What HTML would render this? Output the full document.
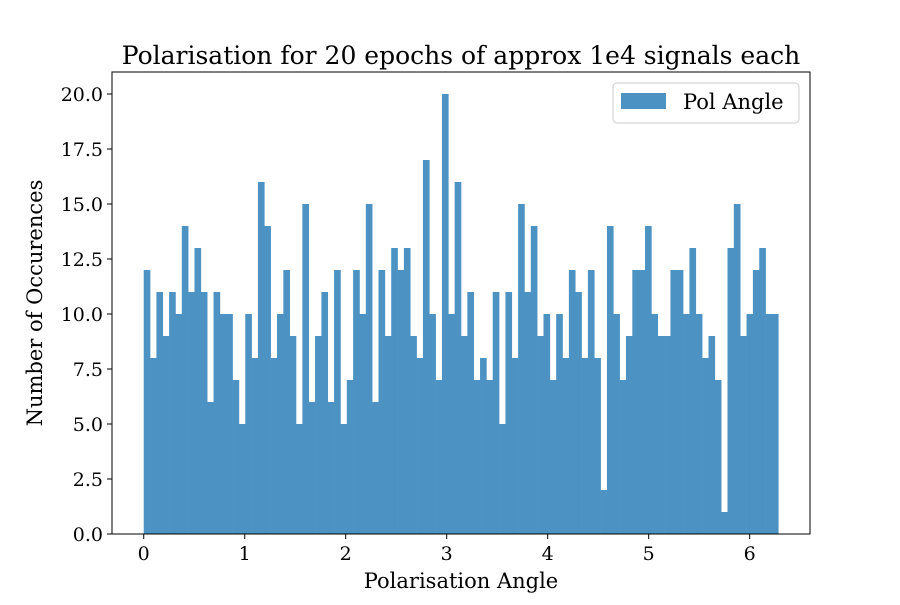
<!DOCTYPE html>
<html><head><meta charset="utf-8"><style>
body{margin:0;background:#fff}
svg text{font-family:"DejaVu Serif","Liberation Serif",serif;fill:#000}
</style></head><body>
<svg id="chart" width="900" height="600" xmlns="http://www.w3.org/2000/svg">
<rect width="900" height="600" fill="#fff"/>
<text x="461" y="64" font-size="25" text-anchor="middle">Polarisation for 20 epochs of approx 1e4 signals each</text>
<g id="bars"></g>
<g id="axes"></g>
<text x="461" y="588" font-size="21" text-anchor="middle">Polarisation Angle</text>
<text transform="translate(42,303) rotate(-90)" font-size="21" text-anchor="middle">Number of Occurences</text>
<g>
<rect x="613" y="83" width="186" height="40" rx="4" fill="#fff" stroke="#ccc"/>
<rect x="621" y="93" width="45" height="16" fill="#4c92c3"/>
<text x="683" y="109" font-size="21">Pol Angle</text>
</g>
</svg>
<script>
const counts=[12,8,11,9,11,10,14,11,13,11,6,11,10,10,7,5,10,8,16,14,8,10,12,9,5,15,6,9,11,6,12,5,7,12,10,15,6,12,9,13,12,13,9,8,17,10,7,20,10,16,9,11,7,8,7,11,5,11,8,15,11,14,9,10,7,10,8,12,11,8,12,8,2,14,10,7,9,12,12,14,10,9,9,12,12,10,13,10,8,9,7,1,13,15,9,10,12,13,10,10];
const xTicks=[0,1,2,3,4,5,6];
const yTicks=[0,2.5,5,7.5,10,12.5,15,17.5,20];
const xMin=0,xMax=2*Math.PI;
const NS="http://www.w3.org/2000/svg";
const L=112,R=810,T=72,B=534;
const span=xMax-xMin,xl=xMin-span*0.05,xr=xMax+span*0.05;
const sx=v=>L+(v-xl)/(xr-xl)*(R-L);
const ymax=Math.max(...counts)*1.05;
const sy=v=>B-v/ymax*(B-T);
function mk(tag,attrs,parent){const e=document.createElementNS(NS,tag);for(const k in attrs)e.setAttribute(k,attrs[k]);parent.appendChild(e);return e;}
const bars=document.getElementById('bars');
const w=span/counts.length;
counts.forEach((c,i)=>{
 const x0=sx(xMin+i*w),x1=sx(xMin+(i+1)*w);
 const r=mk('rect',{x:x0,y:sy(c),width:x1-x0+0.3,height:B-sy(c),fill:'#4c92c3'},bars);
 
 
});
const ax=document.getElementById('axes');
mk('rect',{x:L,y:T,width:R-L,height:B-T,fill:'none',stroke:'#000','stroke-width':1},ax);
xTicks.forEach(t=>{
 const x=sx(t);
 mk('line',{x1:x,x2:x,y1:B,y2:B+5,stroke:'#000'},ax);
 const tx=mk('text',{x:x,y:B+26,'font-size':19,'text-anchor':'middle'},ax);
 tx.textContent=t;
 
 
});
yTicks.forEach(t=>{
 const y=sy(t);
 mk('line',{x1:L-5,x2:L,y1:y,y2:y,stroke:'#000'},ax);
 const tx=mk('text',{x:L-9,y:y+7,'font-size':19,'text-anchor':'end'},ax);
 tx.textContent=t.toFixed(1);
 
 
});
</script>
</body></html>
